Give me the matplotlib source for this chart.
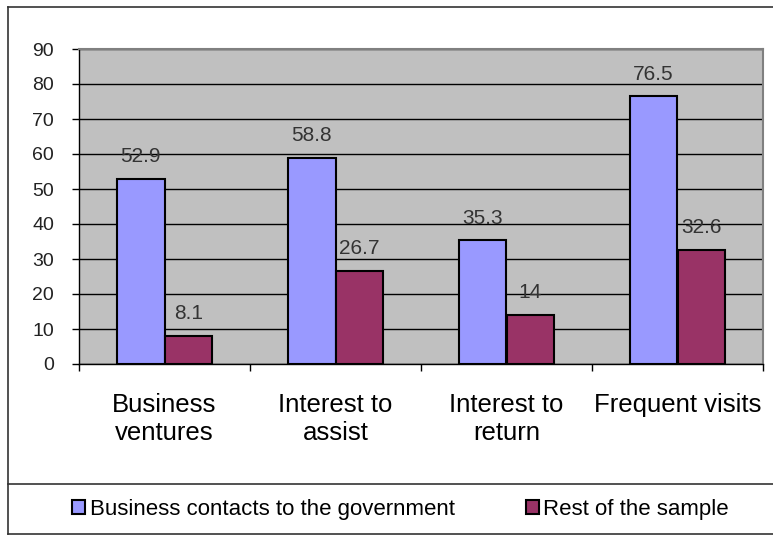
import matplotlib
matplotlib.use("Agg")
import matplotlib.pyplot as plt
from matplotlib.lines import Line2D
from matplotlib.patches import Patch
from matplotlib.ticker import FixedLocator, MultipleLocator
import numpy as np

plt.rcParams['font.family'] = ['Liberation Sans', 'DejaVu Sans']

categories = ["Business\nventures", "Interest to\nassist", "Interest to\nreturn", "Frequent visits"]
contacts = [52.9, 58.8, 35.3, 76.5]
rest = [8.1, 26.7, 14, 32.6]
contacts_labels = ["52.9", "58.8", "35.3", "76.5"]
rest_labels = ["8.1", "26.7", "14", "32.6"]
series_names = ["Business contacts to the government", "Rest of the sample"]

blue = "#9999FF"
plum = "#993366"

fig = plt.figure(figsize=(7.73, 5.35), dpi=100)
ax = fig.add_axes([79 / 773, 1 - 364 / 535, (763 - 79) / 773, (364 - 49) / 535])
ax.set_facecolor("#C0C0C0")

x = np.arange(len(categories))
w = 0.28
b1 = ax.bar(x - w / 2, contacts, w, color=blue, edgecolor="black", linewidth=1.5, zorder=3)
b2 = ax.bar(x + w / 2, rest, w, color=plum, edgecolor="black", linewidth=1.5, zorder=3)

for bars, labs in ((b1, contacts_labels), (b2, rest_labels)):
    for bar, lab in zip(bars, labs):
        ax.annotate(lab, (bar.get_x() + bar.get_width() / 2, bar.get_height()),
                    xytext=(0, 16), textcoords="offset points", ha="center", va="center",
                    fontsize=15, color="#333333", zorder=4)

ax.set_xlim(-0.5, len(categories) - 0.5)
ax.set_ylim(0, 90)
ax.yaxis.set_major_locator(MultipleLocator(10))
ax.grid(axis="y", color="black", linewidth=1.0, zorder=1)
ax.set_axisbelow(True)

ax.set_xticks(x)
ax.set_xticklabels(categories, fontsize=18.5, linespacing=1.2)
ax.xaxis.set_minor_locator(FixedLocator(np.arange(-0.5, len(categories), 1.0)))
ax.tick_params(axis="x", which="major", length=0, pad=21)
ax.tick_params(axis="x", which="minor", length=5, width=1, direction="out")
ax.tick_params(axis="y", length=5, width=1, direction="out", pad=13,
               labelsize=14, labelcolor="#222222")

for s in ("top", "right"):
    ax.spines[s].set_color("#808080")
    ax.spines[s].set_linewidth(1.5)
for s in ("left", "bottom"):
    ax.spines[s].set_color("black")
    ax.spines[s].set_linewidth(1.0)

# outer chart frame and legend separator
lc = "#333333"
fig.add_artist(Line2D([8 / 773, 1], [1 - 7 / 535, 1 - 7 / 535], transform=fig.transFigure, color=lc, lw=1.2))
fig.add_artist(Line2D([8 / 773, 8 / 773], [1 - 7 / 535, 1 - 534 / 535], transform=fig.transFigure, color=lc, lw=1.2))
fig.add_artist(Line2D([8 / 773, 1], [1 - 534 / 535, 1 - 534 / 535], transform=fig.transFigure, color=lc, lw=1.2))
fig.add_artist(Line2D([8 / 773, 1], [1 - 484 / 535, 1 - 484 / 535], transform=fig.transFigure, color=lc, lw=1.2))

handles = [Patch(facecolor=blue, edgecolor="black", linewidth=1.5),
           Patch(facecolor=plum, edgecolor="black", linewidth=1.5)]
fig.legend(handles, series_names, loc="center", bbox_to_anchor=(0.518, 1 - 509 / 535),
           ncol=2, frameon=False, fontsize=16, handlelength=0.6, handleheight=0.6,
           handletextpad=0.2, columnspacing=3.2)

fig.savefig("out.png", dpi=100)
